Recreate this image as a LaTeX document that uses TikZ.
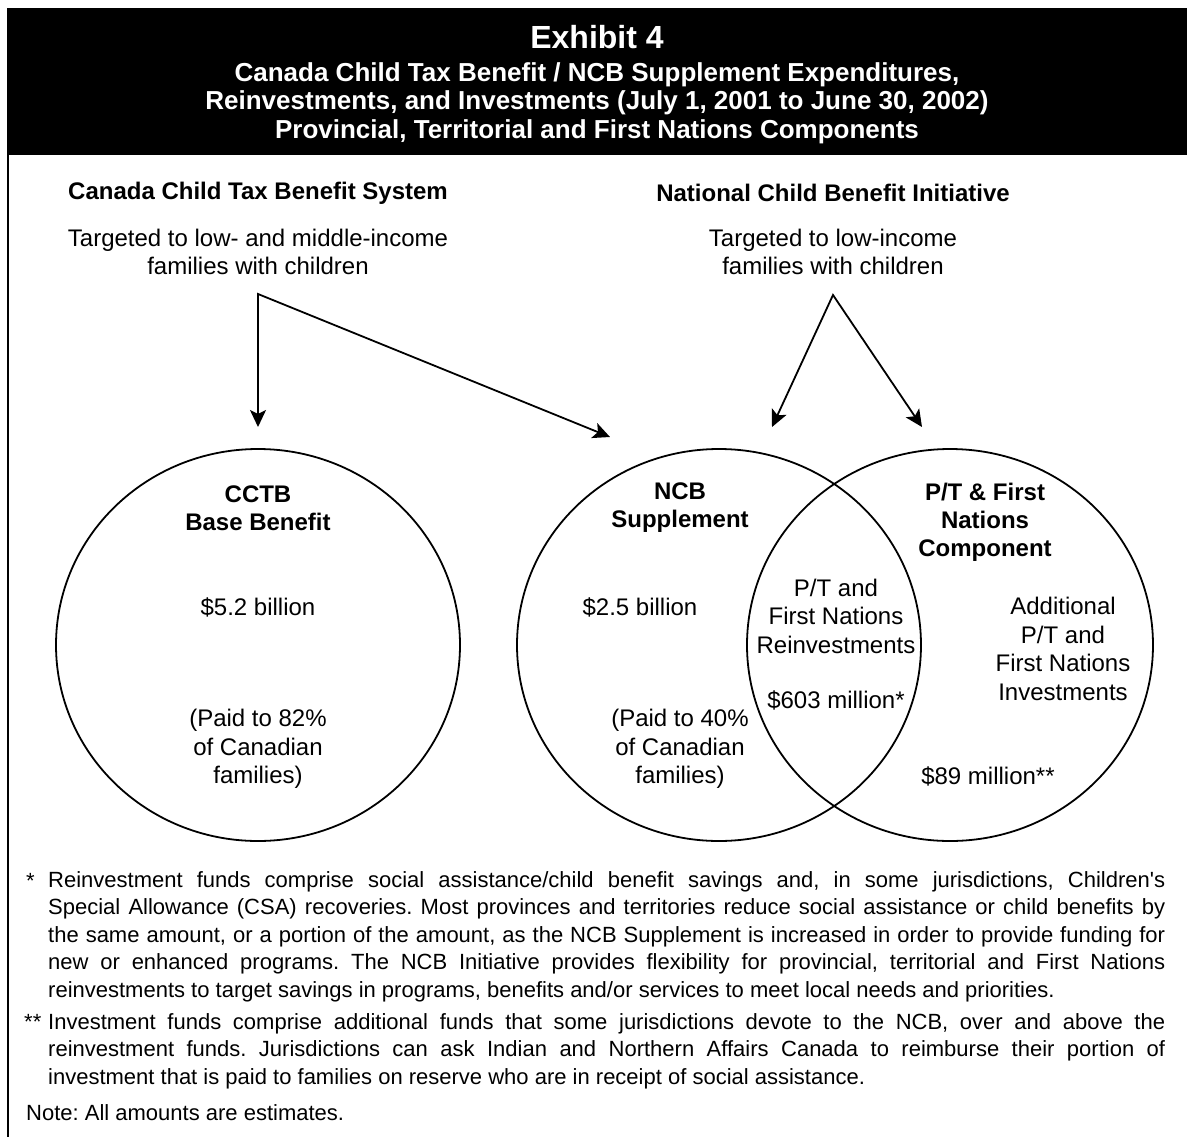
\documentclass[tikz,border=0pt]{standalone}
\usepackage{fontspec}
\setmainfont{Liberation Sans}
\usepackage{tikz}
\usetikzlibrary{arrows.meta}

\newcommand\nohyph{\frenchspacing\hyphenpenalty=10000 \exhyphenpenalty=10000 }

\begin{document}
\begin{tikzpicture}[x=1bp,y=-1bp,
  txt/.style={align=center,inner sep=0pt,font=\fontsize{24bp}{28.5bp}\selectfont},
  bld/.style={txt,font=\fontsize{24bp}{28bp}\selectfont\bfseries},
  ring/.style={black,line width=1.8bp},
  arr/.style={black,line width=1.8bp,line join=miter,{Stealth[length=17bp,width=16bp,inset=4bp]}-{Stealth[length=17bp,width=16bp,inset=4bp]}},
  note/.style={inner sep=0pt,anchor=north west,text width=1117bp,align=justify,
    font=\fontsize{22bp}{27.5bp}\selectfont}]

\useasboundingbox (0,0) rectangle (1187,1137);

\fill[black] (7,8) rectangle (1187,155);
\draw[line width=2bp] (8,150) -- (8,1137);

\node[txt,white,font=\fontsize{32bp}{34bp}\selectfont\bfseries] (exh) at (597,37) {Exhibit 4};
\node[txt,white,font=\fontsize{26bp}{28.5bp}\selectfont\bfseries] (ttl) at (597,103)
  {Canada Child Tax Benefit / NCB Supplement Expenditures,\\
   Reinvestments, and Investments (July 1, 2001 to June 30, 2002)\\
   Provincial, Territorial and First Nations Components};

\node[bld] (cctbsys) at (258,193) {Canada Child Tax Benefit System};
\node[txt] (cctbtgt) at (258,252) {Targeted to low- and middle-income\\families with children};
\node[bld] (ncbsys) at (833,193) {National Child Benefit Initiative};
\node[txt] (ncbtgt) at (833,252) {Targeted to low-income\\families with children};

\coordinate (cctbfork) at (258,294);
\coordinate (cctbtip) at (258,427);
\coordinate (supptip) at (610,437);
\coordinate (ncbfork) at (833,295);
\coordinate (ncbtip) at (772,427);
\coordinate (pttip) at (922,427);

\draw[arr] (cctbtip) -- (cctbfork) -- (supptip);
\draw[arr] (ncbtip) -- (ncbfork) -- (pttip);

\coordinate (cctb) at (258,645);
\coordinate (supp) at (719,645);
\coordinate (ptfn) at (950,645);
\draw[ring] (cctb) ellipse [x radius=202, y radius=196];
\draw[ring] (supp) ellipse [x radius=202, y radius=196];
\draw[ring] (ptfn) ellipse [x radius=203, y radius=196];

\node[bld] (cctbname) at (258,508) {CCTB\\Base Benefit};
\node[txt] (cctbamt) at (258,607) {\$5.2 billion};
\node[txt] (cctbshare) at (258,749) {(Paid to 82\%\\of Canadian\\families)};

\node[bld] (suppname) at (680,508) {NCB\\Supplement};
\node[txt] (suppamt) at (640,607) {\$2.5 billion};
\node[txt] (suppshare) at (680,749) {(Paid to 40\%\\of Canadian\\families)};

\node[txt] (reinv) at (836,616) {P/T and\\First Nations\\Reinvestments};
\node[txt] (reinvamt) at (836,700) {\$603 million*};

\node[bld] (ptname) at (985,522) {P/T \& First\\Nations\\Component};
\node[txt] (invest) at (1063,649) {Additional\\P/T and\\First Nations\\Investments};
\node[txt] (investamt) at (988,776) {\$89 million**};

\node[note] (fnone) at (48,871) {\nohyph Reinvestment funds comprise social assistance/child benefit savings and, in some jurisdictions, Children\textquotesingle s\linebreak
Special Allowance (CSA) recoveries. Most provinces and territories reduce social assistance or child benefits by\linebreak
the same amount, or a portion of the amount, as the NCB Supplement is increased in order to provide funding for\linebreak
new or enhanced programs. The NCB Initiative provides flexibility for provincial, territorial and First Nations\linebreak
reinvestments to target savings in programs, benefits and/or services to meet local needs and priorities.};
\node[txt,anchor=base west,font=\fontsize{22bp}{27.5bp}\selectfont] (fnonemark) at (26,888) {*};

\node[note] (fntwo) at (48,1013) {\nohyph Investment funds comprise additional funds that some jurisdictions devote to the NCB, over and above the\linebreak
reinvestment funds. Jurisdictions can ask Indian and Northern Affairs Canada to reimburse their portion of\linebreak
investment that is paid to families on reserve who are in receipt of social assistance.};
\node[txt,anchor=base west,font=\fontsize{22bp}{27.5bp}\selectfont] (fntwomark) at (24,1029) {**};

\node[txt,anchor=base west,font=\fontsize{22bp}{27.5bp}\selectfont\frenchspacing] (allnote) at (26,1120) {Note: All amounts are estimates.};

\end{tikzpicture}
\end{document}
